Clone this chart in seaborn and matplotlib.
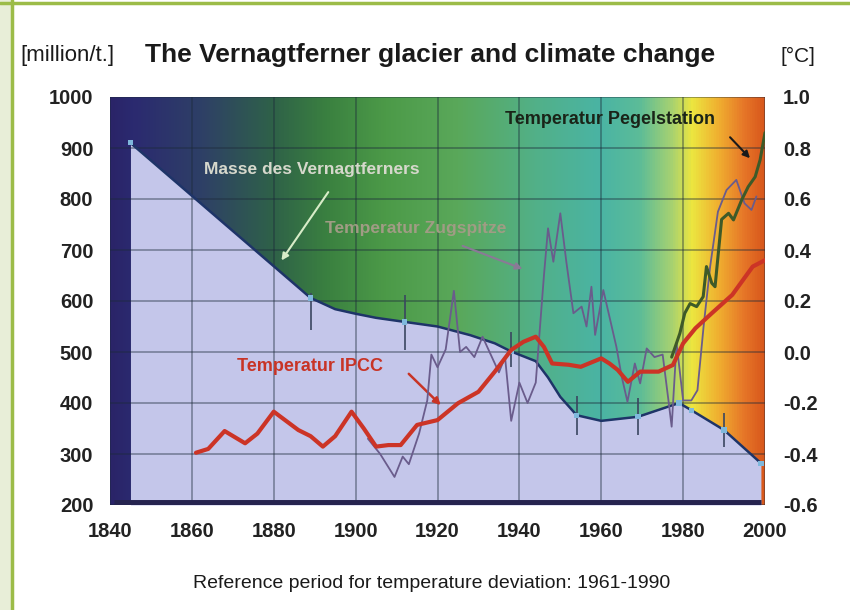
import numpy as np
import seaborn as sns
import matplotlib.pyplot as plt
from matplotlib.colors import LinearSegmentedColormap
from matplotlib.patches import Rectangle
from matplotlib.lines import Line2D

# glacier mass, million t
mass_years = [1845, 1889, 1895, 1900, 1905, 1912, 1920, 1928, 1934, 1938,
              1944, 1947, 1950, 1954, 1960, 1969, 1979, 1982, 1990, 1999]
mass_values = [910, 606, 584, 575, 567, 559, 550, 533, 517, 501,
               482, 450, 412, 376, 365, 373, 400, 386, 347, 282]
marker_years = [1845, 1889, 1912, 1938, 1954, 1969, 1979, 1982, 1990, 1999]
marker_values = [910, 606, 559, 501, 376, 373, 400, 386, 347, 282]
err_years = [1889, 1912, 1938, 1954, 1969, 1990]
err_low = [543, 504, 470, 337, 337, 314]
err_high = [616, 612, 540, 413, 410, 380]

# temperature deviation, deg C
ipcc_years = [1861, 1864, 1868, 1873, 1876, 1880, 1883, 1886, 1889, 1892,
              1895, 1899, 1902, 1905, 1908, 1911, 1915, 1920, 1925, 1930,
              1934, 1938, 1941, 1944, 1946, 1948, 1952, 1955, 1960, 1962,
              1964, 1966.5, 1969.5, 1974, 1977.5, 1980, 1983, 1987, 1992,
              1997, 2000]
ipcc_temp = [-0.395, -0.38, -0.31, -0.358, -0.32, -0.234, -0.27, -0.306, -0.33, -0.371,
             -0.33, -0.234, -0.30, -0.371, -0.365, -0.365, -0.286, -0.267, -0.201, -0.156,
             -0.077, 0.008, 0.04, 0.06, 0.02, -0.045, -0.05, -0.058, -0.025, -0.045,
             -0.07, -0.117, -0.077, -0.077, -0.051, 0.034, 0.093, 0.152, 0.224,
             0.335, 0.36]

zug_years = [1903, 1906, 1909.5, 1911.5, 1913, 1915.5, 1917.5, 1918.5, 1920, 1922,
             1924, 1925.5, 1927, 1929, 1931, 1933, 1935, 1936.5, 1938, 1940,
             1942, 1944, 1946, 1947, 1948.3, 1950, 1951.5, 1953.2, 1955.2, 1956.4,
             1957.6, 1958.5, 1960.5, 1963.7, 1965, 1966.4, 1968.2, 1969.5, 1971.1, 1973,
             1975, 1976.4, 1977.2, 1978.4, 1980, 1982, 1983.5, 1985, 1986.6, 1988.5,
             1990.6, 1993, 1995, 1996.7, 1997.9]
zug_temp = [-0.34, -0.40, -0.49, -0.41, -0.44, -0.32, -0.19, -0.01, -0.06, 0.01,
            0.24, 0.0, 0.02, -0.02, 0.06, -0.01, -0.08, -0.02, -0.27, -0.12,
            -0.2, -0.12, 0.3, 0.485, 0.354, 0.544, 0.35, 0.152, 0.178, 0.10,
            0.256, 0.067, 0.243, 0.02, -0.097, -0.195, -0.045, -0.123, 0.014, -0.02,
            -0.01, -0.188, -0.293, 0.034, -0.19, -0.19, -0.15, 0.10, 0.335, 0.55,
            0.635, 0.675, 0.583, 0.557, 0.61]

pegel_years = [1977.2, 1979.2, 1980.4, 1981.7, 1983.3, 1984.9, 1985.7, 1987, 1987.8,
               1989.4, 1991.1, 1992.3, 1994.3, 1995.9, 1997.6, 1998.8, 2000]
pegel_temp = [-0.02, 0.073, 0.152, 0.19, 0.178, 0.217, 0.335, 0.27, 0.256,
              0.52, 0.544, 0.518, 0.596, 0.648, 0.687, 0.753, 0.86]

mass_ticks = list(range(200, 1001, 100))
temp_ticks = [-0.6, -0.4, -0.2, 0.0, 0.2, 0.4, 0.6, 0.8, 1.0]
year_ticks = list(range(1840, 2001, 20))

sns.set_style("white")
plt.rcParams['font.family'] = ['Liberation Sans', 'DejaVu Sans']

fig = plt.figure(figsize=(8.5, 6.1), dpi=100)
fig.patch.set_facecolor('white')

# page frame
fig.add_artist(Rectangle((0, 0), 11 / 850, 1, transform=fig.transFigure,
                         facecolor='#e8eed8', edgecolor='none'))
fig.add_artist(Line2D([11.5 / 850, 11.5 / 850], [0, 1], transform=fig.transFigure,
                      color='#9cbc48', lw=2.5))
fig.add_artist(Line2D([0, 1], [1 - 3 / 610, 1 - 3 / 610], transform=fig.transFigure,
                      color='#9cbc48', lw=2.5))

ax = fig.add_axes([110 / 850, 105 / 610, 655 / 850, 408 / 610])

# background colour ramp
stops = [(0.0, '#2a2468'), (0.035, '#2b2a70'), (0.14, '#2e4066'), (0.25, '#2f6248'),
         (0.33, '#3a8040'), (0.42, '#4c9a48'), (0.53, '#5aa85a'), (0.65, '#52b088'),
         (0.75, '#4ab4a4'), (0.81, '#5cbc98'), (0.86, '#a8d270'), (0.89, '#ece640'),
         (0.93, '#f0b030'), (0.97, '#e67628'), (1.0, '#d8581c')]
cmap = LinearSegmentedColormap.from_list('ramp', stops)
ax.imshow(np.linspace(0, 1, 512).reshape(1, -1), extent=[1840, 2000, 200, 1000],
          aspect='auto', cmap=cmap, zorder=0)

# glacier mass area
ax.fill_between(mass_years, mass_values, 200, color='#c4c6ea', zorder=1, lw=0)
ax.plot(mass_years, mass_values, color='#1e3468', lw=1.8, zorder=3)
ax.vlines(err_years, err_low, err_high, color='#3a4660', lw=1.2, zorder=3)
ax.scatter(marker_years, marker_values, marker='s', s=14, color='#7fb8dc',
           edgecolor='none', zorder=4)
ax.plot([1841, 1999], [203, 203], color='#262450', lw=5, zorder=3,
        solid_capstyle='butt')

ax.set_xlim(1840, 2000)
ax.set_ylim(200, 1000)
ax.set_xticks(year_ticks)
ax.set_yticks(mass_ticks)
ax.grid(True, color='#1c2a3a', lw=1.1, alpha=0.5)
ax.set_axisbelow(False)
for s in ax.spines.values():
    s.set_visible(False)

ax2 = ax.twinx()
sns.lineplot(x=zug_years, y=zug_temp, ax=ax2, color='#6a5c8c', lw=1.3,
             estimator=None, sort=False)
sns.lineplot(x=pegel_years, y=pegel_temp, ax=ax2, color='#3e5a28', lw=2.2,
             estimator=None, sort=False)
sns.lineplot(x=ipcc_years, y=ipcc_temp, ax=ax2, color='#cc3426', lw=3,
             estimator=None, sort=False)
ax2.set_ylim(-0.6, 1.0)
ax2.set_yticks(temp_ticks)
ax2.set_yticklabels([f'{t:.1f}' for t in temp_ticks])
ax2.grid(False)
for s in ax2.spines.values():
    s.set_visible(False)

for a in (ax, ax2):
    a.tick_params(length=0)
    for lab in a.get_xticklabels() + a.get_yticklabels():
        lab.set(fontweight='bold', fontsize=14.5, color='#222222')
ax.tick_params(axis='y', pad=12)
ax.tick_params(axis='x', pad=12)
ax2.tick_params(axis='y', pad=13)

# annotations (left axis coordinates)
ax.text(1863, 857, 'Masse des Vernagtferners', fontsize=12.5, fontweight='bold',
        color='#d6d8cc', va='center', zorder=6)
ax.annotate('', xy=(1881.5, 675), xytext=(1893.7, 818),
            arrowprops=dict(arrowstyle='-|>', color='#d8ecc8', lw=1.5), zorder=6)
ax.text(1892.5, 743, 'Temperatur Zugspitze', fontsize=12.5, fontweight='bold',
        color='#a09c84', va='center', zorder=6)
ax.annotate('', xy=(1941.4, 661), xytext=(1925.5, 710),
            arrowprops=dict(arrowstyle='-|>', color='#8a7a96', lw=1.5), zorder=6)
ax.text(1936.5, 955, 'Temperatur Pegelstation', fontsize=13, fontweight='bold',
        color='#1a2418', va='center', zorder=6)
ax.annotate('', xy=(1996.8, 876), xytext=(1991, 925),
            arrowprops=dict(arrowstyle='-|>', color='#1a1a1a', lw=1.5), zorder=6)
ax.text(1871, 471, 'Temperatur IPCC', fontsize=13, fontweight='bold',
        color='#c83426', va='center', zorder=6)
ax.annotate('', xy=(1921.3, 392), xytext=(1912.5, 461),
            arrowprops=dict(arrowstyle='-|>', color='#c83426', lw=1.8), zorder=6)

# headings
fig.text(430 / 850, 1 - 55 / 610, 'The Vernagtferner glacier and climate change',
         weight='bold', fontsize=19, ha='center', va='center', color='#1a1a1a')
fig.text(20 / 850, 1 - 56 / 610, '[million/t.]', fontsize=16,
         ha='left', va='center', color='#1a1a1a')
fig.text(780 / 850, 1 - 56 / 610, '[°C]', fontsize=15,
         ha='left', va='center', color='#1a1a1a')
fig.text(432 / 850, 1 - 583 / 610,
         'Reference period for temperature deviation: 1961-1990',
         fontsize=14, ha='center', va='center', color='#1a1a1a')

fig.savefig('out.png', dpi=100)
